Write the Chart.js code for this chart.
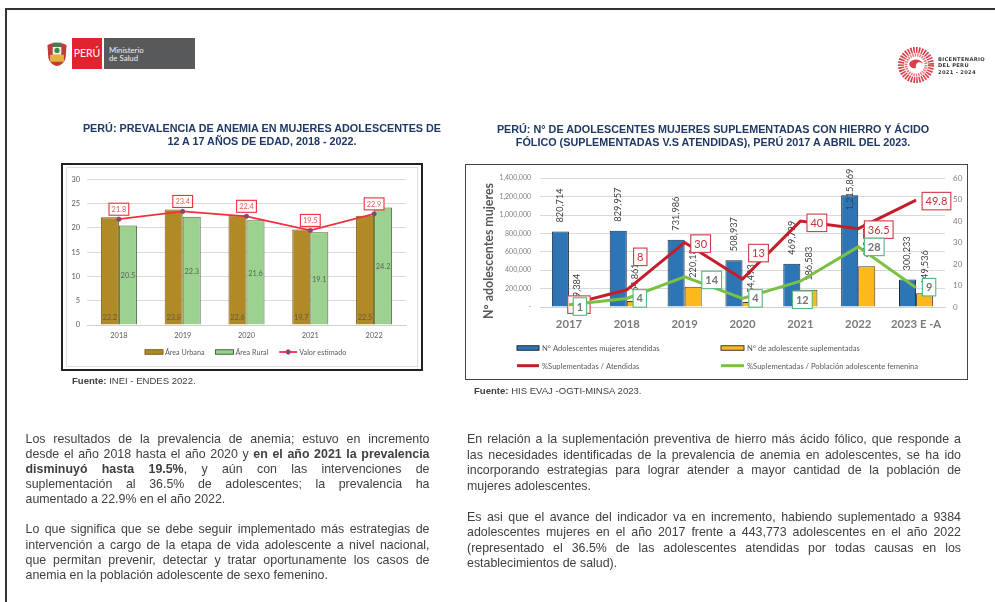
<!DOCTYPE html>
<html lang="es">
<head>
<meta charset="utf-8">
<title>Anemia y suplementación en adolescentes, Perú</title>
<script src="https://cdn.jsdelivr.net/npm/chart.js@4"></script>
<style>
html,body{margin:0;padding:0;background:#fff;width:995px;height:602px;overflow:hidden}
body{position:relative;font-family:"Liberation Sans",Arial,sans-serif}
#sheet{position:absolute;left:0;top:0;width:995px;height:602px;filter:blur(.35px)}
.abs{position:absolute}
#page{left:5px;top:8px;width:1100px;height:700px;border:2px solid #333;box-sizing:border-box}
.ttl{color:#1F3864;font-weight:bold;font-size:10.8px;line-height:13px;text-align:center;white-space:nowrap}
.frame{box-sizing:border-box}
.fu{color:#404040;font-size:9.55px;white-space:nowrap;line-height:11px}
.para{color:#404040;font-size:12.4px;white-space:nowrap}
.para div{text-align:justify;text-align-last:justify;white-space:normal}
.para div.l{text-align-last:left}
canvas{position:absolute;display:block}
</style>
</head>
<body>
<div id="sheet">
<div class="abs" id="page"></div>

<svg class="abs" style="left:44px;top:38px;filter:blur(.5px)" width="26" height="31" viewBox="0 0 30 33">
  <path d="M4 7 C8 3 22 3 26 7 L25 21 C24 27 19 30 15 31 C11 30 6 27 5 21 Z" fill="#c23a3a"/>
  <rect x="10" y="4" width="10" height="5" fill="#4d7a55"/>
  <rect x="10" y="9" width="10" height="9" fill="#f3f1e6"/>
  <rect x="7" y="18" width="16" height="8" fill="#e3b23c"/>
  <circle cx="15" cy="13" r="3" fill="#3e8a4a"/>
</svg>
<div class="abs" style="left:72px;top:38px;width:30px;height:31px;background:#e0232e;color:#fff;font-family:Lato;font-size:10.5px;line-height:31px;text-align:center;">PERÚ</div>
<div class="abs" style="left:104px;top:38px;width:91px;height:31px;background:#58595b;"></div>
<div class="abs" style="left:109px;top:45.5px;color:#f0f0f0;font-family:Lato;font-size:7.8px;line-height:8.3px;">Ministerio<br>de Salud</div>

<svg class="abs" style="left:896px;top:45px;filter:blur(.6px)" width="40" height="40" viewBox="0 0 40 40">
  <circle cx="20" cy="20" r="15" fill="none" stroke="#d8404a" stroke-width="6" stroke-dasharray="1.6 1.1"/>
  <circle cx="20" cy="20" r="10" fill="none" stroke="#e8757c" stroke-width="3" stroke-dasharray="1.4 1"/>
  <path d="M13 19 C15 13 25 13 27 19 C24 16 19 17 20 23 C16 24 14 22 13 19 Z" fill="#d8404a"/>
</svg>
<div class="abs" style="left:938px;top:55.5px;color:#3a3a3a;font-family:'DejaVu Sans';font-weight:bold;font-size:5.2px;line-height:6.5px;white-space:nowrap;letter-spacing:.3px">BICENTENARIO<br>DEL PERÚ<br>2021 - 2024</div>

<div class="abs ttl" style="left:62px;top:122px;width:400px">PERÚ: PREVALENCIA DE ANEMIA EN MUJERES ADOLESCENTES DE<br>12 A 17 AÑOS DE EDAD, 2018 - 2022.</div>
<div class="abs ttl" style="left:463px;top:122.5px;width:500px">PERÚ: N° DE ADOLESCENTES MUJERES SUPLEMENTADAS CON HIERRO Y ÁCIDO<br>FÓLICO (SUPLEMENTADAS V.S ATENDIDAS), PERÚ 2017 A ABRIL DEL 2023.</div>

<div class="abs frame" style="left:61px;top:163px;width:362px;height:208px;border:2px solid #222"></div>
<div class="abs frame" style="left:66px;top:167px;width:352px;height:200px;border:1px solid #dedede"></div>
<div class="abs frame" style="left:465px;top:164px;width:503px;height:216px;border:1.5px solid #444"></div>

<canvas id="anemia" width="352" height="198" style="left:67px;top:168px"></canvas>
<canvas id="suple" width="500" height="213" style="left:466px;top:165px"></canvas>

<div class="abs fu" style="left:72px;top:375px"><b>Fuente:</b> INEI - ENDES 2022.</div>
<div class="abs fu" style="left:474px;top:385px"><b>Fuente:</b> HIS EVAJ -OGTI-MINSA 2023.</div>

<div class="abs para" style="left:25.5px;top:431.5px;width:404px;line-height:15.15px">
<div>Los resultados de la prevalencia de anemia; estuvo en incremento</div>
<div>desde el año 2018 hasta el año 2020 y <b>en el año 2021 la prevalencia</b></div>
<div><b>disminuyó hasta 19.5%</b>, y aún con las intervenciones de</div>
<div>suplementación al 36.5% de adolescentes; la prevalencia ha</div>
<div class="l">aumentado a 22.9% en el año 2022.</div>
<div class="l">&nbsp;</div>
<div>Lo que significa que se debe seguir implementado más estrategias de</div>
<div>intervención a cargo de la etapa de vida adolescente a nivel nacional,</div>
<div>que permitan prevenir, detectar y tratar oportunamente los casos de</div>
<div class="l">anemia en la población adolescente de sexo femenino.</div>
</div>

<div class="abs para" style="left:467px;top:432px;width:494px;line-height:15.5px">
<div>En relación a la suplementación preventiva de hierro más ácido fólico, que responde a</div>
<div>las necesidades identificadas de la prevalencia de anemia en adolescentes, se ha ido</div>
<div>incorporando estrategias para lograr atender a mayor cantidad de la población de</div>
<div class="l">mujeres adolescentes.</div>
<div class="l">&nbsp;</div>
<div>Es asi que el avance del indicador va en incremento, habiendo suplementado a 9384</div>
<div>adolescentes mujeres en el año 2017 frente a 443,773 adolescentes en el año 2022</div>
<div>(representado el 36.5% de las adolescentes atendidas por todas causas en los</div>
<div class="l">establecimientos de salud).</div>
</div>
</div>

<script>
// ---- Chart 1 data ----
const anemiaYears = ['2018', '2019', '2020', '2021', '2022'];
const areaUrbana = [22.2, 23.8, 22.6, 19.7, 22.5];
const areaRural = [20.5, 22.3, 21.6, 19.1, 24.2];
const valorEstimado = [21.8, 23.4, 22.4, 19.5, 22.9];

// ---- Chart 2 data ----
const supleYears = ['2017', '2018', '2019', '2020', '2021', '2022', '2023 E -A'];
const atendidas = [820714, 829957, 731986, 508937, 469799, 1215869, 300233];
const suplementadas = [9384, 64861, 220186, 54493, 186583, 443773, 149536];
const pctAtendidas = [1.1, 8, 30, 13, 40, 36.5, 49.8];
const pctPoblacion = [1, 4, 14, 4, 12, 28, 9];

// ---- Label placement (pixels away from each mark) ----
const redBoxShift = [[10,0],[13.5,-33],[16,1],[16,-26],[16.5,1.7],[20.5,1],[20.4,1]];
const greenBoxShift = [[11,1.7],[13,0],[27,3],[13,0],[2,18.5],[16,0],[13,-.5]];
const rotatedGap = {default:9, blueOverride:{5:-15}};

const LATO = 'Lato, "Open Sans", sans-serif';
Chart.defaults.font.family = LATO;
Chart.defaults.animation = false;

function boxLabel(ctx, text, cx, cy, h, border, color, font, pad) {
  ctx.save();
  ctx.font = font;
  const w = ctx.measureText(text).width + pad * 2;
  ctx.fillStyle = '#fff';
  ctx.strokeStyle = border;
  ctx.lineWidth = 1.1;
  ctx.fillRect(cx - w/2, cy - h/2, w, h);
  ctx.strokeRect(cx - w/2, cy - h/2, w, h);
  ctx.fillStyle = color;
  ctx.textAlign = 'center';
  ctx.textBaseline = 'middle';
  ctx.fillText(text, cx, cy + .5);
  ctx.restore();
}

function legendSwatch(ctx, ds, x, y, w, h) {
  ctx.save();
  if (ds.type === 'line') {
    ctx.strokeStyle = ds.borderColor;
    ctx.lineWidth = ds.borderWidth;
    ctx.beginPath(); ctx.moveTo(x, y); ctx.lineTo(x + w, y); ctx.stroke();
    if (ds.pointRadius) {
      ctx.fillStyle = ds.pointBackgroundColor;
      ctx.strokeStyle = ds.pointBorderColor;
      ctx.lineWidth = 1;
      ctx.beginPath(); ctx.arc(x + w/2, y, ds.pointRadius, 0, Math.PI*2); ctx.fill(); ctx.stroke();
    }
  } else {
    ctx.fillStyle = ds.backgroundColor;
    ctx.strokeStyle = ds.borderColor;
    ctx.lineWidth = 1;
    ctx.fillRect(x, y - h/2, w, h);
    ctx.strokeRect(x, y - h/2, w, h);
  }
  ctx.restore();
}

// ---- Chart 1 ----
const anemiaPlugin = {
  id: 'anemiaLabels',
  afterDatasetDraw(chart, args) {
    const ctx = chart.ctx, ds = chart.data.datasets[args.index], meta = args.meta;
    if (ds.type === 'line') {
      meta.data.forEach((p, i) => boxLabel(ctx, ds.data[i].toFixed(1), p.x, p.y - 10, 12, '#ee2d3a', '#f0555c', '7.4px ' + LATO, 2.6));
    } else {
      ctx.save();
      ctx.font = '7.4px ' + LATO;
      ctx.textAlign = 'center'; ctx.textBaseline = 'middle';
      ctx.fillStyle = args.index === 0 ? '#6a5a38' : '#59685a';
      meta.data.forEach((b, i) => {
        const y = args.index === 0 ? chart.scales.y.bottom - 7.5 : (b.y + b.base) / 2 + 1;
        ctx.fillText(ds.data[i].toFixed(1), b.x, y);
      });
      ctx.restore();
    }
  },
  afterDraw(chart) {
    const ctx = chart.ctx, y = 184;
    const sw = [18, 18, 18];
    let x = 78;
    ctx.save();
    ctx.font = '7.2px ' + LATO;
    ctx.textBaseline = 'middle';
    chart.data.datasets.forEach((ds, i) => {
      legendSwatch(ctx, ds, x, y, sw[i], 4.5);
      ctx.fillStyle = '#595959';
      ctx.fillText(ds.label, x + sw[i] + 2, y + .5);
      x += sw[i] + 2 + ctx.measureText(ds.label).width + 11;
    });
    ctx.restore();
  }
};

new Chart(document.getElementById('anemia'), {
  data: {
    labels: anemiaYears,
    datasets: [
      {type:'bar', label:'Área Urbana', data:areaUrbana, backgroundColor:'#B08A27', borderColor:'#7a5d18', borderWidth:1, order:2, categoryPercentage:.565, barPercentage:1},
      {type:'bar', label:'Área Rural', data:areaRural, backgroundColor:'#9CD18F', borderColor:'#3f6b3a', borderWidth:1, order:3, categoryPercentage:.565, barPercentage:1},
      {type:'line', label:'Valor estimado', data:valorEstimado, borderColor:'#f0303c', borderWidth:1.8, tension:0, pointRadius:2.2, pointBackgroundColor:'#4a5aa8', pointBorderColor:'#e0303c', pointBorderWidth:.8, order:1}
    ]
  },
  options: {
    responsive:false,
    layout:{padding:{left:0,right:13,top:9,bottom:0}},
    plugins:{legend:{display:false},tooltip:{enabled:false}},
    scales:{
      x:{grid:{display:false,drawTicks:false},border:{color:'#d0d0d0'},ticks:{color:'#595959',font:{size:7.4},padding:6,maxRotation:0},afterFit(s){s.height=41}},
      y:{min:0,max:30,ticks:{stepSize:5,color:'#595959',font:{size:7.4},padding:7},grid:{color:'#d9d9d9',drawTicks:false},border:{display:false},afterFit(s){s.width=20}}
    }
  },
  plugins:[anemiaPlugin]
});

// ---- Chart 2 ----
const supleFmt = v => v.toLocaleString('en-US');
const suplePlugin = {
  id: 'supleLabels',
  afterDatasetDraw(chart, args) {
    const ctx = chart.ctx, ds = chart.data.datasets[args.index], meta = args.meta;
    if (ds.type === 'line') {
      const red = args.index === 2, shift = red ? redBoxShift : greenBoxShift;
      meta.data.forEach((p, i) => boxLabel(ctx, String(ds.data[i]), p.x + shift[i][0], p.y + shift[i][1], 17.5,
        red ? '#cf3a44' : '#52b878', red ? '#c4303a' : '#757575',
        (red ? '' : 'bold ') + '11px ' + LATO, 3.5));
    } else {
      ctx.save();
      ctx.font = '9.2px ' + LATO;
      ctx.fillStyle = '#404040';
      ctx.textBaseline = 'middle';
      ctx.textAlign = 'left';
      meta.data.forEach((b, i) => {
        const gap = args.index === 0 && rotatedGap.blueOverride[i] !== undefined ? rotatedGap.blueOverride[i] : rotatedGap.default;
        ctx.save();
        ctx.translate(b.x, b.y - gap);
        ctx.rotate(-Math.PI/2);
        ctx.fillText(supleFmt(ds.data[i]), 0, 0);
        ctx.restore();
      });
      ctx.restore();
    }
  },
  afterDraw(chart) {
    const ctx = chart.ctx;
    ctx.save();
    ctx.font = 'bold 12.4px ' + LATO;
    ctx.fillStyle = '#595959';
    ctx.textAlign = 'center'; ctx.textBaseline = 'middle';
    ctx.translate(23, 86);
    ctx.rotate(-Math.PI/2);
    ctx.fillText('N° adolescentes mujeres', 0, 0);
    ctx.restore();
    // two-column legend
    const cols = [51, 255], rows = [183, 200.7], sw = [22, 23];
    ctx.save();
    ctx.font = '7.6px ' + LATO;
    ctx.textBaseline = 'middle';
    chart.data.datasets.forEach((ds, i) => {
      const c = i % 2, r = i < 2 ? 0 : 1;
      legendSwatch(ctx, ds, cols[c], rows[r], sw[c], 4.5);
      ctx.fillStyle = '#595959';
      ctx.fillText(ds.label, cols[c] + sw[c] + 3, rows[r] + .5);
    });
    ctx.restore();
  }
};

new Chart(document.getElementById('suple'), {
  data: {
    labels: supleYears,
    datasets: [
      {type:'bar', label:'N° Adolescentes mujeres atendidas', data:atendidas, backgroundColor:'#2E75B6', borderColor:'#1c2b3a', borderWidth:1, order:3, yAxisID:'y', categoryPercentage:.59, barPercentage:1},
      {type:'bar', label:'N° de adolescente suplementadas', data:suplementadas, backgroundColor:'#FDB91C', borderColor:'#3f3a2a', borderWidth:1, order:4, yAxisID:'y', categoryPercentage:.59, barPercentage:1},
      {type:'line', label:'%Suplementadas / Atendidas', data:pctAtendidas, borderColor:'#C21F2A', borderWidth:3, tension:0, pointRadius:0, order:2, yAxisID:'y1'},
      {type:'line', label:'%Suplementadas / Población adolescente femenina', data:pctPoblacion, borderColor:'#7AC143', borderWidth:3, tension:0, pointRadius:0, order:1, yAxisID:'y1'}
    ]
  },
  options: {
    responsive:false,
    layout:{padding:{left:0,right:0,top:12,bottom:0}},
    plugins:{legend:{display:false},tooltip:{enabled:false}},
    scales:{
      x:{grid:{display:false,drawTicks:false},border:{color:'#d0d0d0'},ticks:{color:'#7a7a7a',font:{size:11.3,weight:'bold'},padding:11,maxRotation:0,autoSkip:false},afterFit(s){s.height=71}},
      y:{position:'left',min:0,max:1400000,ticks:{stepSize:200000,color:'#7f7f7f',font:{size:7},padding:9,callback:v=>v===0?'-':supleFmt(v)},grid:{color:'#d9d9d9',drawTicks:false},border:{display:false},afterFit(s){s.width=74}},
      y1:{position:'right',min:0,max:60,ticks:{stepSize:10,color:'#7f7f7f',font:{size:8},padding:8},grid:{display:false,drawTicks:false},border:{display:false},afterFit(s){s.width=21}}
    }
  },
  plugins:[suplePlugin]
});
</script>
</body>
</html>
